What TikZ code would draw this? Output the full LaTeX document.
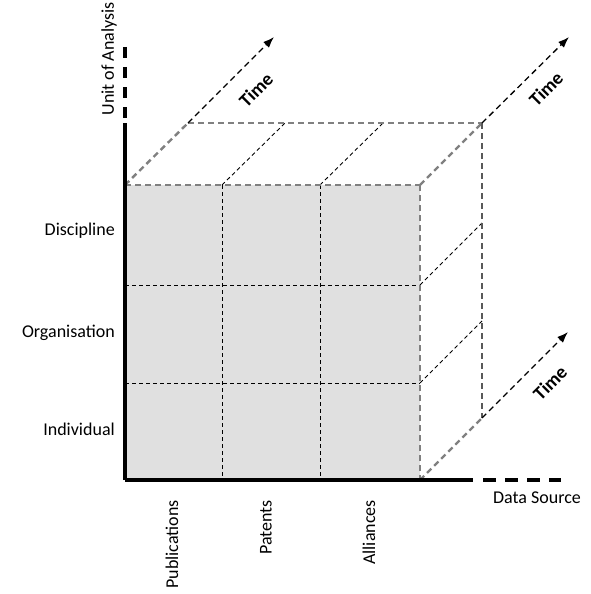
\documentclass[tikz,border=0pt]{standalone}
\usepackage{fontspec}
\setmainfont{Carlito}
\usetikzlibrary{arrows.meta}
\begin{document}
\begin{tikzpicture}[x=1pt,y=-1pt,
  lbl/.style={font=\fontsize{18}{21}\selectfont, inner sep=0pt},
  timelbl/.style={font=\fontsize{19}{22}\selectfont\bfseries, inner sep=0pt, rotate=45},
  edge/.style={draw=black!50, line width=2.4pt, dash pattern=on 6pt off 4pt},
  backedge/.style={draw=black!65, line width=2pt, dash pattern=on 6pt off 4pt},
  grid/.style={draw=black, line width=0.9pt, dash pattern=on 4pt off 3pt},
  timearrow/.style={draw=black, line width=1.3pt, dash pattern=on 6pt off 4pt, -{Latex[length=11pt,width=8pt]}},
  axis/.style={draw=black, line width=3.2pt},
  axisdash/.style={draw=black, line width=3.2pt, dash pattern=on 11pt off 9pt}]
\useasboundingbox (0,0) rectangle (591,594);

% front face corners and grid points
\coordinate (F00) at (125,185); \coordinate (F30) at (420,185);
\coordinate (F03) at (125,480); \coordinate (F33) at (420,480);
\coordinate (F10) at (222,185); \coordinate (F20) at (320,185);
\coordinate (F31) at (420,285); \coordinate (F32) at (420,383);
\coordinate (F01) at (125,285); \coordinate (F02) at (125,383);
\coordinate (F13) at (222,480); \coordinate (F23) at (320,480);
% back face (shifted along time)
\coordinate (B00) at (188,123); \coordinate (B30) at (482,123);
\coordinate (B33) at (482,418);
\coordinate (B10) at (285,123); \coordinate (B20) at (383,123);
\coordinate (B31) at (482,223); \coordinate (B32) at (482,321);
% arrow tips
\coordinate (T1) at (274,37); \coordinate (T2) at (569,37);
\coordinate (T3) at (568,332);

% front face
\fill[black!12] (F00) rectangle (F33);
\draw[grid] (F10) -- (F13);
\draw[grid] (F20) -- (F23);
\draw[grid] (F01) -- (F31);
\draw[grid] (F02) -- (F32);

% depth lines
\draw[grid] (F10) -- (B10);
\draw[grid] (F20) -- (B20);
\draw[grid] (F31) -- (B31);
\draw[grid] (F32) -- (B32);

% cube outline
\draw[edge] (F00) -- (F30);
\draw[edge] (F30) -- (F33);
\draw[edge] (F00) -- (B00);
\draw[edge] (F30) -- (B30);
\draw[edge] (F33) -- (B33);
\draw[edge] (B00) -- (B30);
\draw[backedge] (B30) -- (B33);

% time axes
\draw[timearrow] (B00) -- (T1);
\draw[timearrow] (B30) -- (T2);
\draw[timearrow] (B33) -- (T3);
\node[timelbl] (time1) at (256,90) {Time};
\node[timelbl] (time2) at (546,89) {Time};
\node[timelbl] (time3) at (550,383) {Time};

% main axes
\coordinate (Ytop) at (125,47); \coordinate (Yend) at (125,118);
\coordinate (Ymid) at (125,123);
\coordinate (Xmid) at (473,480); \coordinate (Xstart) at (483,480);
\coordinate (Xend) at (561,480);
\draw[axisdash] (Ytop) -- (Yend);
\draw[axis] (F03) -- (Ymid);
\draw[axis] (F03) -- (Xmid);
\draw[axisdash, dash pattern=on 13pt off 9pt] (Xstart) -- (Xend);

% labels
\node[lbl, rotate=90] (ua) at (109,59) {Unit of Analysis};
\node[lbl, anchor=east] (disc) at (115,231) {Discipline};
\node[lbl, anchor=east] (org) at (115,333) {Organisation};
\node[lbl, anchor=east] (ind) at (115,429) {Individual};
\node[lbl] (ds) at (537,498) {Data Source};
\node[lbl, rotate=90, anchor=east] (pub) at (172,500) {Publications};
\node[lbl, rotate=90, anchor=east] (pat) at (266,500) {Patents};
\node[lbl, rotate=90, anchor=east] (all) at (369,500) {Alliances};
\end{tikzpicture}
\end{document}
